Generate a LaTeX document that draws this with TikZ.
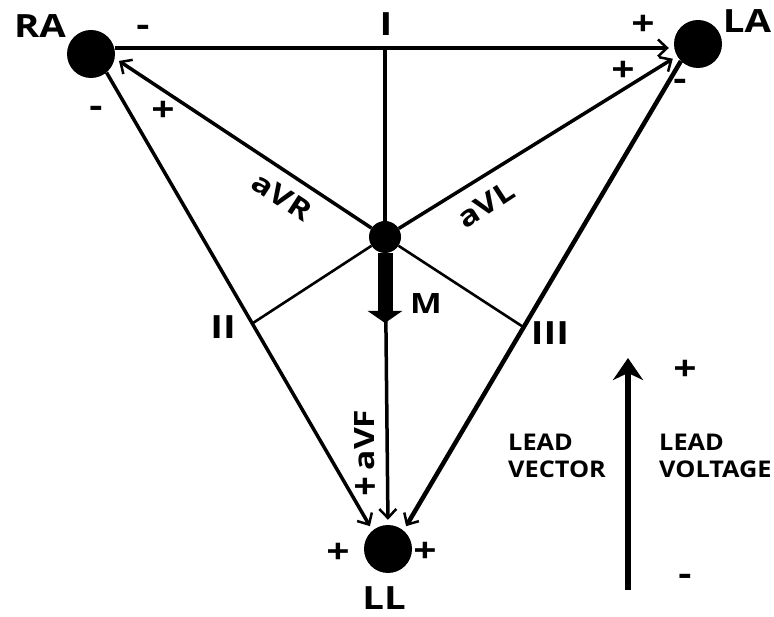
\documentclass[tikz,border=0pt]{standalone}
\usepackage{fontspec}
\setmainfont{Open Sans}[FakeStretch=1.2]
\newfontfamily\legendfont{Open Sans}[FakeStretch=1.1]
\usetikzlibrary{arrows.meta, calc}

\begin{document}
\begin{tikzpicture}[x=1pt, y=-1pt, font=\bfseries,
    electrode/.style={circle, fill, inner sep=0pt, minimum size=48pt},
    lead/.style={line width=3.5pt, shorten >=5pt, -{Straight Barb[length=9pt, width=17pt, line width=2.5pt]}},
    spoke/.style={line width=2.6pt},
    lbl/.style={inner sep=0pt, font=\bfseries\fontsize{32}{32}\selectfont},
    sub/.style={inner sep=0pt, font=\bfseries\fontsize{28}{28}\selectfont},
    sgn/.style={inner sep=0pt, font=\bfseries\fontsize{34}{34}\selectfont},
    legend/.style={inner sep=0pt, anchor=west, align=left, font=\legendfont\bfseries\fontsize{23}{27}\selectfont}]
    \useasboundingbox (0, 0) rectangle (774, 617);

    \node[electrode] (RA) at (91, 54) {};
    \node[electrode] (LA) at (698, 44) {};
    \node[electrode] (LL) at (388, 549) {};
    \node[circle, fill, inner sep=0pt, minimum size=32pt] (M) at (385, 237) {};

    \coordinate (Itop) at (385, 48);
    \coordinate (IIfoot) at ($(RA.-50)!0.548!(LL.130)$);
    \coordinate (IIIfoot) at ($(LA.225)!0.567!(LL.50)$);
    \coordinate (Mtip) at (385, 323);

    \draw[lead] (RA.east |- Itop) -- (LA.west |- Itop);
    \draw[lead] (RA.-50) -- (LL.130);
    \draw[lead, line width=4.5pt] (LA.225) -- (LL.50);
    \draw[spoke, line width=3.2pt] (Itop) -- (M);
    \draw[lead] (M) -- (RA.-10);
    \draw[lead] (M) -- (LA.210);
    \draw[lead] (M) -- (LL.north);
    \draw[spoke] (M) -- (IIfoot);
    \draw[spoke] (M) -- (IIIfoot);
    \draw[line width=15pt, -{Triangle[length=12pt, width=34pt]}] (M.south) -- (Mtip);

    \node[lbl] (RAlab) at (40, 26) {RA};
    \node[lbl] (LAlab) at (747, 21) {LA};
    \node[lbl] (LLlab) at (384, 598) {LL};
    \node[lbl] (Ilab) at (386, 24) {I};
    \node[lbl] (IIlab) at (223, 327) {II};
    \node[lbl] (IIIlab) at (550, 333) {III};
    \node[sub] (Mlab) at (426, 304) {M};
    \node[sub, rotate=-33] (aVRlab) at (282, 197) {aVR};
    \node[sub, rotate=33] (aVLlab) at (486, 205) {aVL};
    \node[sub, rotate=90] (aVFlab) at (365, 440) {aVF};

    \node[sgn] (s1) at (143, 31) {-};
    \node[sgn] (s2) at (96, 112) {-};
    \node[sgn] (s3) at (163, 111) {+};
    \node[sgn] (s4) at (643, 25) {+};
    \node[sgn] (s5) at (623, 71) {+};
    \node[sgn] (s6) at (680, 85) {-};
    \node[sgn] (s7) at (365, 488) {+};
    \node[sgn] (s8) at (338, 553) {+};
    \node[sgn] (s9) at (425, 552) {+};

    \coordinate (Vbot) at (628, 590);
    \coordinate (Vtop) at (628, 358);
    \draw[line width=6pt, -{Stealth[length=22pt, width=30pt, inset=7pt]}] (Vbot) -- (Vtop);
    \node[sgn] (vplus) at (685, 370) {+};
    \node[sgn] (vminus) at (685, 580) {-};
    \node[legend] (vec) at (508, 456) {LEAD\\VECTOR};
    \node[legend] (volt) at (659, 456) {LEAD\\VOLTAGE};
\end{tikzpicture}
\end{document}
